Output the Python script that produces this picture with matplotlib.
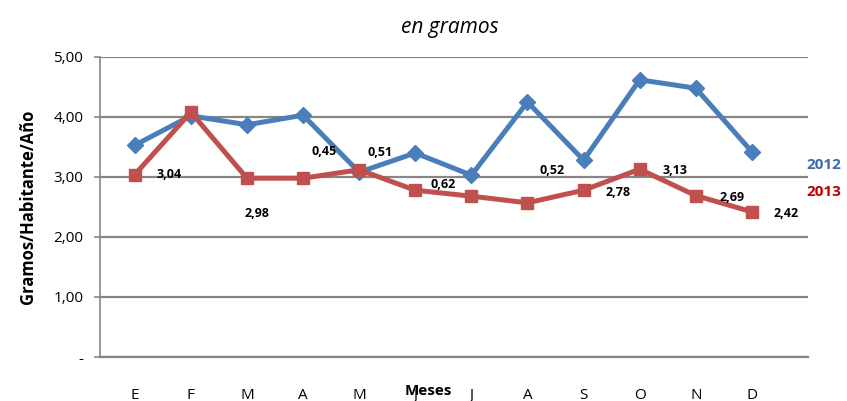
import matplotlib
matplotlib.use('Agg')
import matplotlib.pyplot as plt

plt.rcParams['font.family'] = ['Open Sans', 'DejaVu Sans']

meses = ['E', 'F', 'M', 'A', 'M', 'J', 'J', 'A', 'S', 'O', 'N', 'D']
v2012 = [3.53, 4.02, 3.87, 4.03, 3.08, 3.40, 3.03, 4.25, 3.28, 4.62, 4.48, 3.42]
v2013 = [3.04, 4.08, 2.98, 2.98, 3.12, 2.78, 2.68, 2.57, 2.78, 3.13, 2.69, 2.42]
yticks = [0, 1, 2, 3, 4, 5]
ylabels = ['-', '1,00', '2,00', '3,00', '4,00', '5,00']

# etiquetas de datos: (indice del mes, texto)
etiquetas = [(0, '3,04'), (2, '2,98'), (3, '0,45'), (4, '0,51'), (5, '0,62'),
             (7, '0,52'), (8, '2,78'), (9, '3,13'), (10, '2,69'), (11, '2,42')]
# desplazamientos en pixeles (dx, dy) respecto del punto 2013
offsets = [(34, 0), (10, -35), (21, 27), (21, 17), (28, 6),
           (25, 32), (34, -2), (35, -1), (36, -2), (34, -2)]

azul = '#4A7EBB'
rojo = '#C0504D'

fig = plt.figure(figsize=(8.47, 4.01), dpi=100)
ax = fig.add_axes([100/847, 1-357/401, 708/847, 300/401])

x = list(range(len(meses)))
ax.plot(x, v2012, color=azul, lw=3.6, marker='D', ms=8.5, zorder=3)
ax.plot(x, v2013, color=rojo, lw=3.6, marker='s', ms=8.5, zorder=4)

for (i, txt), (dx, dy) in zip(etiquetas, offsets):
    ax.annotate(txt, (i, v2013[i]), xytext=(dx*0.72, dy*0.72), textcoords='offset points',
                ha='center', va='center', fontsize=9, fontweight='bold', zorder=5)

ax.set_xlim(-0.62, 12.0)
ax.set_ylim(0, 5)
ax.set_yticks(yticks)
ax.set_yticklabels(ylabels, fontsize=11)
ax.set_xticks(x)
ax.set_xticklabels(meses, fontsize=11)
ax.tick_params(axis='x', length=0, pad=22)
ax.tick_params(axis='y', length=4, width=1.2, color='#868686', pad=8)
ax.grid(axis='y', color='#868686', lw=1.6)
ax.set_axisbelow(True)
for s in ['top', 'right']:
    ax.spines[s].set_visible(False)
ax.spines['left'].set_color('#868686')
ax.spines['left'].set_linewidth(1.2)
ax.spines['bottom'].set_color('#868686')
ax.spines['bottom'].set_linewidth(1.6)

ax.set_ylabel('Gramos/Habitante/Año', fontsize=12, fontweight='bold', labelpad=12)
fig.text(428/847, 1-391/401, 'Meses', ha='center', va='center', fontsize=11, fontweight='bold')
fig.text(450/847, 1-28/401, 'en gramos', ha='center', va='center', fontsize=15, style='italic')
fig.text(806/847, 1-165/401, '2012', ha='left', va='center', fontsize=11, fontweight='bold', color='#3A6BA8')
fig.text(806/847, 1-192/401, '2013', ha='left', va='center', fontsize=11, fontweight='bold', color='#C00000')

fig.savefig('out.png', dpi=100)
